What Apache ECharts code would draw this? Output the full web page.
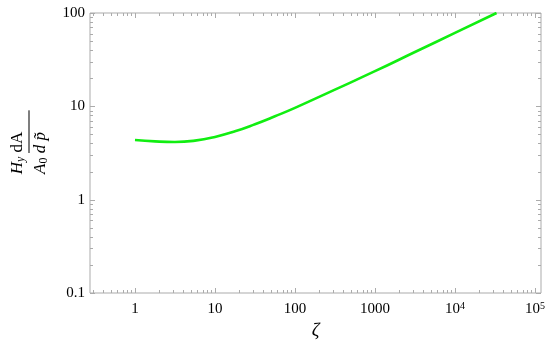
<!DOCTYPE html>
<html>
<head>
<meta charset="utf-8">
<script src="https://cdn.jsdelivr.net/npm/echarts@6/dist/echarts.min.js"></script>
<style>
  html, body { margin: 0; padding: 0; background: #fff; }
  #chart { width: 550px; height: 347px; }
</style>
</head>
<body>
<div id="chart"></div>
<script>
// curve (log-log)
var zeta = [1, 1.78, 3.16, 5.62, 10, 17.8, 31.6, 56.2, 100, 316, 1000, 3162, 10000, 33100];
var hy = [4.35, 4.21, 4.15, 4.29, 4.7, 5.4, 6.43, 7.82, 9.62, 15.1, 23.8, 38.2, 61.2, 100];

// axis decades + minor multipliers
var xDecades = [0.1, 1, 10, 100, 1000, 10000, 100000];
var yDecades = [0.1, 1, 10];
var minorSteps = [2, 3, 4, 5, 6, 7, 8, 9];
var yTickLabels = ['0.1', '1', '10', '100'];

var xMin = 0.274, xMax = 119000;
var yMin = 0.1, yMax = 100;

var frameColor = '#ababab';
var serif = '"Liberation Serif", "DejaVu Serif", serif';

function buildTicks(decades, lo, hi) {
    var out = [];
    decades.forEach(function (d) {
        if (d >= lo && d <= hi) out.push([d, 1]);
        minorSteps.forEach(function (m) {
            var v = d * m;
            if (v >= lo && v <= hi) out.push([v, 0]);
        });
    });
    var top = decades[decades.length - 1] * 10;
    if (top >= lo && top <= hi) out.push([top, 1]);
    return out;
}
var xTicks = buildTicks(xDecades, xMin, xMax);
var yTicks = buildTicks(yDecades, yMin, yMax);

function isPow10(v) {
    var e = Math.log10(v);
    return Math.abs(e - Math.round(e)) < 1e-6;
}

var chart = echarts.init(document.getElementById('chart'));

var option = {
    animation: false,
    grid: {
        left: 90,
        right: 9,
        top: 13,
        bottom: 54,
        show: true,
        borderColor: frameColor,
        borderWidth: 1,
        backgroundColor: 'transparent'
    },
    xAxis: {
        type: 'log',
        logBase: 10,
        min: xMin,
        max: xMax,
        name: 'ζ',
        nameLocation: 'middle',
        nameGap: 10,
        nameTextStyle: { fontFamily: serif, fontStyle: 'italic', fontSize: 19, color: '#000' },
        axisLine: { show: false },
        axisTick: { show: false },
        splitLine: { show: false },
        minorTick: { show: false },
        axisLabel: {
            margin: 8,
            showMinLabel: false,
            showMaxLabel: false,
            color: '#000',
            fontFamily: serif,
            fontSize: 15,
            formatter: function (v) {
                if (!isPow10(v)) return '';
                var e = Math.round(Math.log10(v));
                if (e < 0) return '';
                if (e <= 3) return '{b|' + Math.pow(10, e) + '}';
                return '{b|10}{s|' + e + '}';
            },
            rich: {
                b: { fontFamily: serif, fontSize: 15, color: '#000', lineHeight: 17 },
                s: { fontFamily: serif, fontSize: 10, color: '#000', verticalAlign: 'top', lineHeight: 17, padding: [0, 0, 6, 0] }
            }
        }
    },
    yAxis: {
        type: 'log',
        logBase: 10,
        min: yMin,
        max: yMax,
        name: '{i|H}{sb|y}{r| dA}\n{hr|}\n{i|A}{s0|0}{i| d p̃}',
        nameLocation: 'middle',
        nameRotate: 90,
        nameGap: 40,
        nameTextStyle: {
            align: 'center',
            rich: {
                i: { fontFamily: serif, fontStyle: 'italic', fontSize: 17, color: '#000', lineHeight: 19, align: 'center' },
                r: { fontFamily: serif, fontSize: 17, color: '#000', lineHeight: 19, align: 'center' },
                sb: { fontFamily: serif, fontStyle: 'italic', fontSize: 12, color: '#000', lineHeight: 19, verticalAlign: 'bottom' },
                s0: { fontFamily: serif, fontSize: 12, color: '#000', lineHeight: 19, verticalAlign: 'bottom' },
                hr: { borderColor: '#000', width: '100%', borderWidth: 0.6, height: 0, lineHeight: 4 }
            }
        },
        axisLine: { show: false },
        axisTick: { show: false },
        splitLine: { show: false },
        minorTick: { show: false },
        axisLabel: {
            margin: 5,
            color: '#000',
            fontFamily: serif,
            fontSize: 15,
            formatter: function (v) {
                if (!isPow10(v)) return '';
                var e = Math.round(Math.log10(v));
                return yTickLabels[e + 1] || '';
            }
        }
    },
    series: [
        {
            // frame ticks bottom + top
            type: 'custom',
            data: xTicks,
            silent: true,
            clip: false,
            z: 3,
            renderItem: function (params, api) {
                var v = api.value(0);
                var len = api.value(1) ? 5 : 3;
                var b = api.coord([v, yMin]);
                var t = api.coord([v, yMax]);
                var x = Math.round(b[0]) + 0.5;
                var st = { stroke: frameColor, lineWidth: 1 };
                return {
                    type: 'group',
                    children: [
                        { type: 'line', shape: { x1: x, y1: b[1], x2: x, y2: b[1] - len }, style: st },
                        { type: 'line', shape: { x1: x, y1: t[1], x2: x, y2: t[1] + len }, style: st }
                    ]
                };
            }
        },
        {
            // frame ticks left + right
            type: 'custom',
            data: yTicks.map(function (d) { return [xMin, d[0], d[1]]; }),
            silent: true,
            clip: false,
            z: 3,
            renderItem: function (params, api) {
                var v = api.value(1);
                var len = api.value(2) ? 5 : 3;
                var l = api.coord([xMin, v]);
                var r = api.coord([xMax, v]);
                var y = Math.round(l[1]) + 0.5;
                var st = { stroke: frameColor, lineWidth: 1 };
                return {
                    type: 'group',
                    children: [
                        { type: 'line', shape: { x1: l[0], y1: y, x2: l[0] + len, y2: y }, style: st },
                        { type: 'line', shape: { x1: r[0], y1: y, x2: r[0] - len, y2: y }, style: st }
                    ]
                };
            }
        },
        {
            type: 'line',
            data: zeta.map(function (z, i) { return [z, hy[i]]; }),
            smooth: 0.5,
            showSymbol: false,
            symbol: 'none',
            z: 5,
            lineStyle: { color: '#11ee11', width: 2.6 }
        }
    ]
};

chart.clear();
chart.resize();
chart.setOption(option);
</script>
</body>
</html>
